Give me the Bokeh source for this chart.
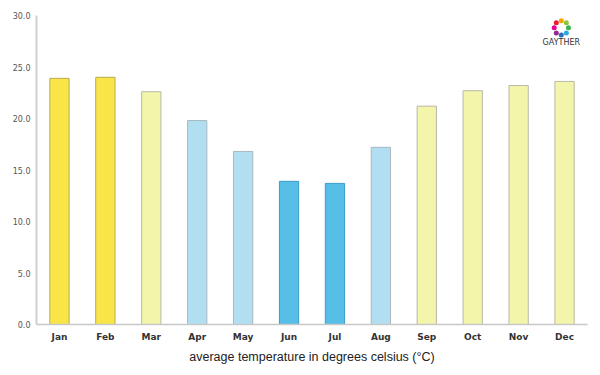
import math
from bokeh.plotting import figure
from bokeh.models import ColumnDataSource, FactorRange, Range1d, NumeralTickFormatter, FixedTicker, Label
from bokeh.embed import file_html
from bokeh.resources import INLINE

months = ["Jan", "Feb", "Mar", "Apr", "May", "Jun", "Jul", "Aug", "Sep", "Oct", "Nov", "Dec"]
temps = [23.9, 24.0, 22.6, 19.8, 16.8, 13.9, 13.7, 17.2, 21.2, 22.7, 23.2, 23.6]
groups = ["hot", "hot", "warm", "mild", "mild", "cool", "cool", "mild", "warm", "warm", "warm", "warm"]

fill_map = {"hot": "#f9e547", "warm": "#f3f5aa", "mild": "#b1dff1", "cool": "#57bee8"}
line_map = {"hot": "#b8ab52", "warm": "#b8b8a8", "mild": "#a8b8c0", "cool": "#3a9ccc"}

src = ColumnDataSource(dict(
    month=months, temp=temps,
    fill=[fill_map[g] for g in groups],
    line=[line_map[g] for g in groups],
))

p = figure(x_range=FactorRange(*months, range_padding=0), y_range=Range1d(0, 30),
           width=592, height=367, output_backend="svg", toolbar_location=None,
           min_border_left=36, min_border_right=5, min_border_top=15, min_border_bottom=43)

p.vbar(x="month", top="temp", width=0.42, source=src, fill_color="fill",
       line_color="line", line_width=1)

p.xgrid.visible = False
p.ygrid.visible = False
p.outline_line_color = None

p.yaxis.ticker = FixedTicker(ticks=[0, 5, 10, 15, 20, 25, 30])
p.yaxis.formatter = NumeralTickFormatter(format="0.0")
p.yaxis.major_tick_line_color = None
p.yaxis.minor_tick_line_color = None
p.yaxis.major_tick_out = 0
p.yaxis.minor_tick_out = 0
p.yaxis.axis_line_color = "#d0d0d0"
p.yaxis.axis_line_width = 2
p.yaxis.major_label_text_font = "DejaVu Sans"
p.yaxis.major_label_text_font_size = "8px"
p.yaxis.major_label_text_color = "#555555"
p.yaxis.major_label_standoff = 6

p.xaxis.major_tick_line_color = None
p.xaxis.minor_tick_line_color = None
p.xaxis.major_tick_out = 0
p.xaxis.minor_tick_out = 0
p.xaxis.axis_line_color = "#c8c8c8"
p.xaxis.axis_line_width = 1.5
p.xaxis.major_label_text_font = "DejaVu Sans"
p.xaxis.major_label_text_font_size = "9px"
p.xaxis.major_label_text_font_style = "bold"
p.xaxis.major_label_text_color = "#333333"
p.xaxis.major_label_standoff = 7
p.xaxis.axis_label = "average temperature in degrees celsius (°C)"
p.xaxis.axis_label_text_font = "Liberation Sans"
p.xaxis.axis_label_text_font_size = "12.5px"
p.xaxis.axis_label_text_font_style = "normal"
p.xaxis.axis_label_text_color = "#222222"
p.xaxis.axis_label_standoff = 5

# logo decoration
logo_colors = ["#f4a300", "#8cc63f", "#39b54a", "#29abe2", "#2e6fb7", "#92278f", "#ec008c", "#ed1c24"]
cx, cy = 11.43, 28.8
for i, c in enumerate(logo_colors):
    a = math.pi / 2 - i * 2 * math.pi / len(logo_colors)
    p.scatter(x=[cx + 0.155 * math.cos(a)], y=[cy + 0.7 * math.sin(a)], size=5,
              fill_color=c, line_color=None)
p.add_layout(Label(x=cx, y=27.4, text="GAYTHER", text_font="DejaVu Sans", text_font_size="8px",
                   text_color="#333333", text_align="center", text_baseline="middle"))

open("out.html", "w").write(file_html(p, INLINE))
